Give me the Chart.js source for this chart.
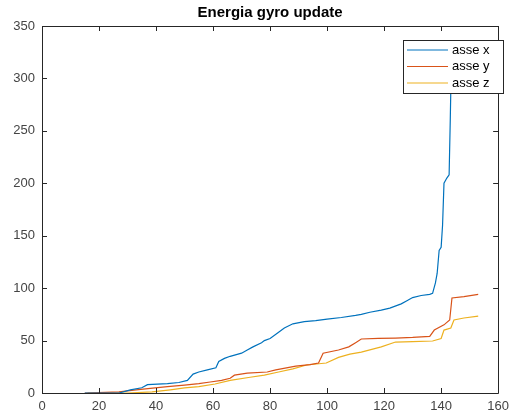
<!DOCTYPE html>
<html>
<head>
<meta charset="utf-8">
<script src="https://cdn.jsdelivr.net/npm/chart.js@4"></script>
<style>
  html, body { margin: 0; padding: 0; background: #fff; }
  #wrap { width: 515px; height: 416px; }
</style>
</head>
<body>
<div id="wrap"><canvas id="chart" width="515" height="416"></canvas></div>
<script>
// valori (campione, energia)
var xTicks = [0, 20, 40, 60, 80, 100, 120, 140, 160];
var yTicks = [0, 50, 100, 150, 200, 250, 300, 350];

var asseX_x = [15, 27, 31, 35, 37, 44, 48, 51, 53, 55, 58, 61, 62, 64, 66, 70, 72, 74, 77, 78, 80, 83, 85, 88, 92, 96, 100, 105, 110, 112, 115, 119, 122, 126, 128, 130, 133, 136, 137, 138, 138.6, 139.3, 140, 140.5, 141, 142, 142.8, 143.2, 143.6];
var asseX_y = [0, 0, 3, 5, 8, 9, 10, 12, 18, 20, 22, 24, 30, 33, 35, 38, 41, 44, 48, 50, 52, 58, 62, 66, 68, 69, 70.5, 72, 74, 75, 77, 79, 81, 85, 88, 91, 93, 94, 95, 105, 114, 136, 139, 160, 200, 205, 208, 260, 320];

var asseY_x = [15, 27, 33, 38, 44, 50, 55, 59, 63, 66, 67.5, 72, 79, 82, 89, 94, 97, 98.6, 104, 107.6, 110, 112, 118, 124, 130, 136, 137.6, 141, 143, 143.8, 148, 153];
var asseY_y = [0, 1, 3, 4.5, 6, 7.6, 9, 10.5, 12, 14, 17, 19, 20, 22, 25.6, 27, 28.6, 38, 41, 44, 48, 51.5, 52, 52.4, 53, 54, 60, 65, 69.6, 90.6, 92, 94];

var asseZ_x = [16, 30, 38.6, 45, 50, 55, 60.7, 66, 73, 78, 83, 88, 92.8, 99.7, 104, 108, 112, 119, 124, 130, 137, 140, 141, 143.4, 144.5, 148, 153];
var asseZ_y = [0, 0, 1, 3, 4.8, 6, 8.6, 12, 15, 17, 20, 23, 26.7, 28.6, 34, 37, 39, 44, 48.6, 49, 49.6, 52, 60, 62, 69.6, 71.5, 73.4];

var serieNomi = ['asse x', 'asse y', 'asse z'];
var colori = ['#0072BD', '#D95319', '#EDB120'];

function punti(xs, ys) {
    return xs.map(function (v, i) { return { x: v, y: ys[i] }; });
}

var axisColor = '#262626';
var tickFont = { family: 'Liberation Sans, Arial, sans-serif', size: 13 };

// bordo, tacche interne, titolo e legenda stile MATLAB
var matlabPlugin = {
    id: 'matlab',
    afterDraw: function (chart) {
        var ctx = chart.ctx;
        var a = chart.chartArea;
        var sx = chart.scales.x, sy = chart.scales.y;
        ctx.save();
        ctx.strokeStyle = axisColor;
        ctx.lineWidth = 1;
        ctx.beginPath();
        ctx.rect(Math.round(a.left) + 0.5, Math.round(a.top) + 0.5, Math.round(a.right - a.left), Math.round(a.bottom - a.top));
        ctx.stroke();
        var tl = 5;
        ctx.beginPath();
        xTicks.forEach(function (v) {
            var px = Math.round(sx.getPixelForValue(v)) + 0.5;
            ctx.moveTo(px, a.bottom); ctx.lineTo(px, a.bottom - tl);
            ctx.moveTo(px, a.top); ctx.lineTo(px, a.top + tl);
        });
        yTicks.forEach(function (v) {
            var py = Math.round(sy.getPixelForValue(v)) + 0.5;
            ctx.moveTo(a.left, py); ctx.lineTo(a.left + tl, py);
            ctx.moveTo(a.right, py); ctx.lineTo(a.right - tl, py);
        });
        ctx.stroke();

        // titolo
        ctx.fillStyle = '#000';
        ctx.font = 'bold 15px Liberation Sans, Arial, sans-serif';
        ctx.textAlign = 'center';
        ctx.textBaseline = 'middle';
        ctx.fillText('Energia gyro update', (a.left + a.right) / 2, 13);

        // legenda
        var lx = 403, ly = 40, lw = 100, lh = 53;
        ctx.fillStyle = '#fff';
        ctx.fillRect(lx, ly, lw, lh);
        ctx.strokeStyle = axisColor;
        ctx.strokeRect(lx + 0.5, ly + 0.5, lw, lh);
        ctx.font = '13px Liberation Sans, Arial, sans-serif';
        ctx.textAlign = 'left';
        chart.data.datasets.forEach(function (ds, i) {
            var yy = ly + 10 + i * 16.5;
            ctx.strokeStyle = ds.borderColor;
            ctx.lineWidth = 1.2;
            ctx.beginPath();
            ctx.moveTo(lx + 4, yy); ctx.lineTo(lx + 45, yy);
            ctx.stroke();
            ctx.fillStyle = '#000';
            ctx.fillText(ds.label, lx + 49, yy);
        });
        ctx.restore();
    }
};

var ctx = document.getElementById('chart').getContext('2d');
var chart = new Chart(ctx, {
    type: 'line',
    data: {
        datasets: [
            { label: serieNomi[0], data: punti(asseX_x, asseX_y), borderColor: colori[0] },
            { label: serieNomi[1], data: punti(asseY_x, asseY_y), borderColor: colori[1] },
            { label: serieNomi[2], data: punti(asseZ_x, asseZ_y), borderColor: colori[2] }
        ]
    },
    options: {
        responsive: false,
        animation: false,
        datasets: {
            line: { borderWidth: 1.2, pointRadius: 0, tension: 0, fill: false }
        },
        layout: { padding: { top: 26, right: 10, left: 0, bottom: 0 } },
        scales: {
            x: {
                type: 'linear',
                min: 0, max: 160,
                afterBuildTicks: function (s) { s.ticks = xTicks.map(function (v) { return { value: v }; }); },
                afterFit: function (s) { s.height = 23; },
                grid: { display: false, drawTicks: false },
                border: { display: false },
                ticks: { color: '#444', font: tickFont, padding: 6, maxRotation: 0, autoSkip: false }
            },
            y: {
                min: 0, max: 350,
                afterBuildTicks: function (s) { s.ticks = yTicks.map(function (v) { return { value: v }; }); },
                afterFit: function (s) { s.width = 42; },
                grid: { display: false, drawTicks: false },
                border: { display: false },
                ticks: { color: '#444', font: tickFont, padding: 7, autoSkip: false }
            }
        },
        plugins: {
            legend: { display: false },
            title: { display: false },
            tooltip: { enabled: false }
        }
    },
    plugins: [matlabPlugin]
});
</script>
</body>
</html>
